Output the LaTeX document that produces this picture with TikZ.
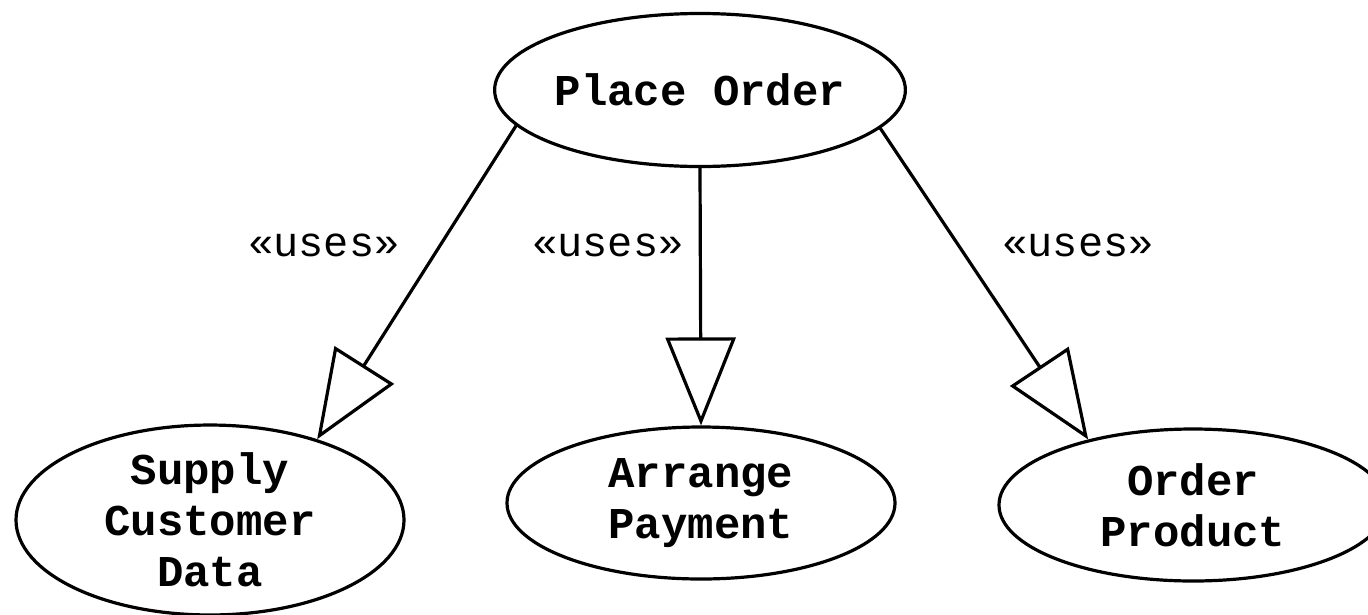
\documentclass[tikz,border=0pt]{standalone}
\usepackage{fontspec}
\setmonofont{Liberation Mono}
\usetikzlibrary{shapes.geometric,arrows.meta}
\begin{document}
\begin{tikzpicture}[x=1pt,y=-1pt,
  usecase/.style={ellipse,draw,line width=3.2pt,inner sep=0pt,align=center,
    font=\ttfamily\bfseries\fontsize{44}{51}\selectfont},
  stereo/.style={inner sep=0pt,font=\ttfamily\fontsize{42}{48}\selectfont},
  uses/.style={line width=3.2pt,-{Triangle[open,length=88pt,width=70pt]}}]
\useasboundingbox (0,0) rectangle (1368,614);
% use cases
\node[usecase,minimum width=388pt,minimum height=153pt] (po) at (700,90) {Place Order};
\node[usecase,minimum width=388pt,minimum height=182pt] (sc) at (210,520) {Supply\\Customer\\Data};
\node[usecase,minimum width=388pt,minimum height=152pt] (ap) at (701,503) {Arrange\\Payment};
\node[usecase,minimum width=388pt,minimum height=152pt] (op) at (1193,505) {Order\\Product};
% include relations
\draw[uses] (po.191.9) -- (sc.37.2);
\draw[uses] (po.south) -- (ap.north);
\draw[uses] (po.348.8) -- (op.148.4);
% stereotypes
\node[stereo] (l1) at (324,245) {«uses»};
\node[stereo] (l2) at (608,245) {«uses»};
\node[stereo] (l3) at (1078,245) {«uses»};
\end{tikzpicture}
\end{document}
